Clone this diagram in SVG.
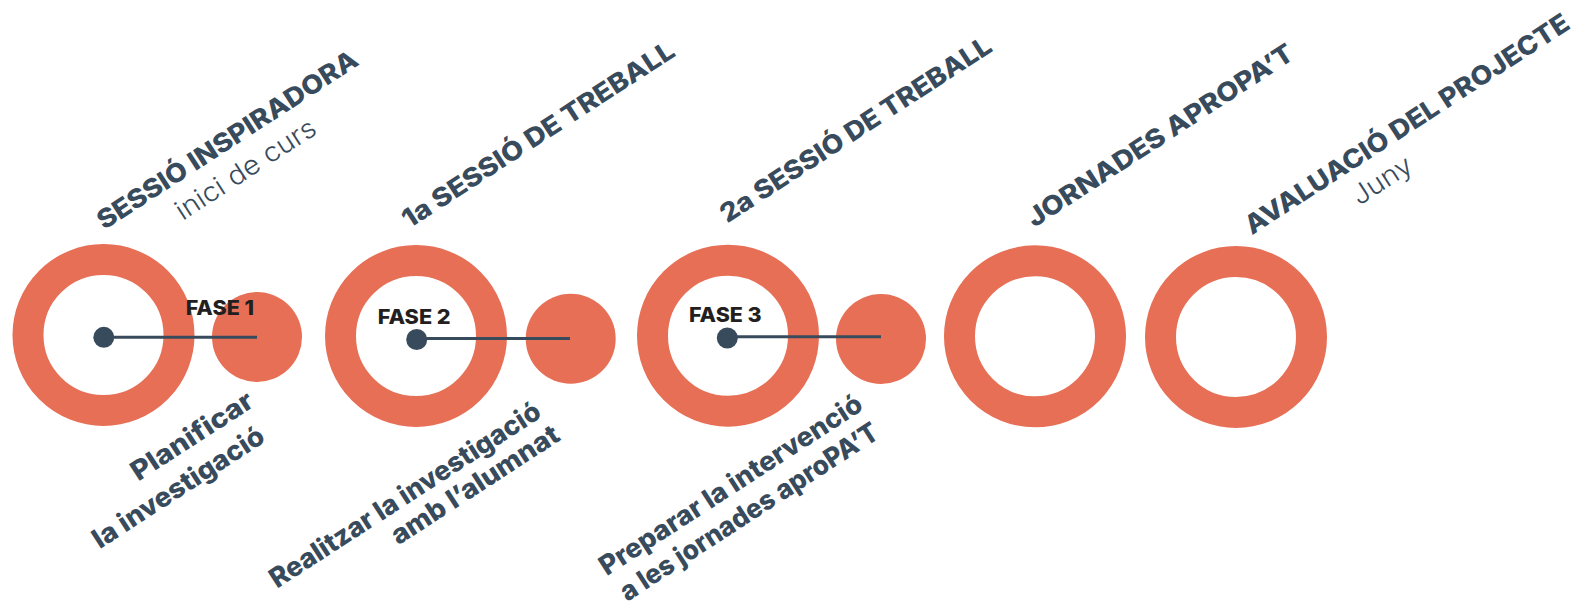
<svg xmlns="http://www.w3.org/2000/svg" width="1575" height="605" viewBox="0 0 1575 605">
<style>
.ring{fill:none;stroke:#E76F56;stroke-width:31}
.sub{fill:#E76F56}
.dot{fill:#384B5C}
.conn{stroke:#384B5C;stroke-width:3;fill:none}
.t{font-family:Inter,"Open Sans","Liberation Sans",sans-serif;font-weight:800;font-size:26px;fill:#384B5C;text-anchor:middle}
.b{font-family:Inter,"Open Sans","Liberation Sans",sans-serif;font-weight:800;font-size:27px;fill:#384B5C;text-anchor:middle}
.l{font-family:Inter,"Open Sans","Liberation Sans",sans-serif;font-weight:300;font-size:27px;fill:#384B5C;text-anchor:middle}
.f{font-family:Inter,"Open Sans","Liberation Sans",sans-serif;font-weight:800;font-size:20px;fill:#231F20}
</style>
<rect width="1575" height="605" fill="#FFFFFF"/>
<g id="phase1">
<circle class="ring" cx="103.5" cy="335" r="75.5"/>
</g>
<g id="phase1-goal"><circle class="sub" cx="257" cy="337" r="45"/></g>
<g id="phase2">
<circle class="ring" cx="416" cy="336" r="75.5"/>
</g>
<g id="phase2-goal"><circle class="sub" cx="570.7" cy="338.7" r="45"/></g>
<g id="phase3">
<circle class="ring" cx="728" cy="335.7" r="75.5"/>
</g>
<g id="phase3-goal"><circle class="sub" cx="881" cy="339" r="45"/></g>
<g id="jornades"><circle class="ring" cx="1035" cy="336.3" r="75.5"/></g>
<g id="avaluacio"><circle class="ring" cx="1236" cy="337" r="75.5"/></g>
<g id="connectors">
<line class="conn" x1="104" y1="337.3" x2="257" y2="337.3"/>
<line class="conn" x1="416.7" y1="338.5" x2="570" y2="338.5"/>
<line class="conn" x1="727.3" y1="336.8" x2="881" y2="336.8"/>
</g>
<g id="dots">
<circle class="dot" cx="103.8" cy="337.3" r="10.5"/>
<circle class="dot" cx="416.7" cy="339.5" r="10.5"/>
<circle class="dot" cx="727.3" cy="338" r="10.5"/>
</g>
<g id="labels-phase">
<text class="f" x="185.7" y="315" textLength="68.3" lengthAdjust="spacingAndGlyphs">FASE 1</text>
<text class="f" x="377.7" y="324.3" textLength="73" lengthAdjust="spacingAndGlyphs">FASE 2</text>
<text class="f" x="689" y="322.3" textLength="72.7" lengthAdjust="spacingAndGlyphs">FASE 3</text>
</g>
<g id="titles">
<text class="t" transform="translate(232.2,147.3) rotate(-33)" textLength="305" lengthAdjust="spacingAndGlyphs">SESSIÓ INSPIRADORA</text>
<text class="l" transform="translate(250.6,176.9) rotate(-33)" textLength="162" lengthAdjust="spacingAndGlyphs">inici de curs</text>
<text class="t" transform="translate(543,142) rotate(-33)" textLength="319" lengthAdjust="spacingAndGlyphs">1a SESSIÓ DE TREBALL</text>
<text class="t" transform="translate(860.5,137) rotate(-33)" textLength="318" lengthAdjust="spacingAndGlyphs">2a SESSIÓ DE TREBALL</text>
<text class="t" transform="translate(1165,143) rotate(-33)" textLength="312" lengthAdjust="spacingAndGlyphs">JORNADES APROPA’T</text>
<text class="t" transform="translate(1411.7,131.5) rotate(-33)" textLength="381" lengthAdjust="spacingAndGlyphs">AVALUACIÓ DEL PROJECTE</text>
<text class="l" transform="translate(1387,188) rotate(-33)" textLength="66" lengthAdjust="spacingAndGlyphs">Juny</text>
</g>
<g id="descriptions">
<text class="b" transform="translate(197,443.6) rotate(-33)" textLength="140" lengthAdjust="spacingAndGlyphs">Planificar</text>
<text class="b" transform="translate(183.3,495) rotate(-33)" textLength="199" lengthAdjust="spacingAndGlyphs">la investigació</text>
<text class="b" transform="translate(410,502.5) rotate(-33)" textLength="317" lengthAdjust="spacingAndGlyphs">Realitzar la investigació</text>
<text class="b" transform="translate(480,492.5) rotate(-33)" textLength="195" lengthAdjust="spacingAndGlyphs">amb l’alumnat</text>
<text class="b" transform="translate(735.8,492.5) rotate(-33)" textLength="307.6" lengthAdjust="spacingAndGlyphs">Preparar la intervenció</text>
<text class="b" transform="translate(754,519.5) rotate(-33)" textLength="302.5" lengthAdjust="spacingAndGlyphs">a les jornades aproPA’T</text>
</g>
</svg>
